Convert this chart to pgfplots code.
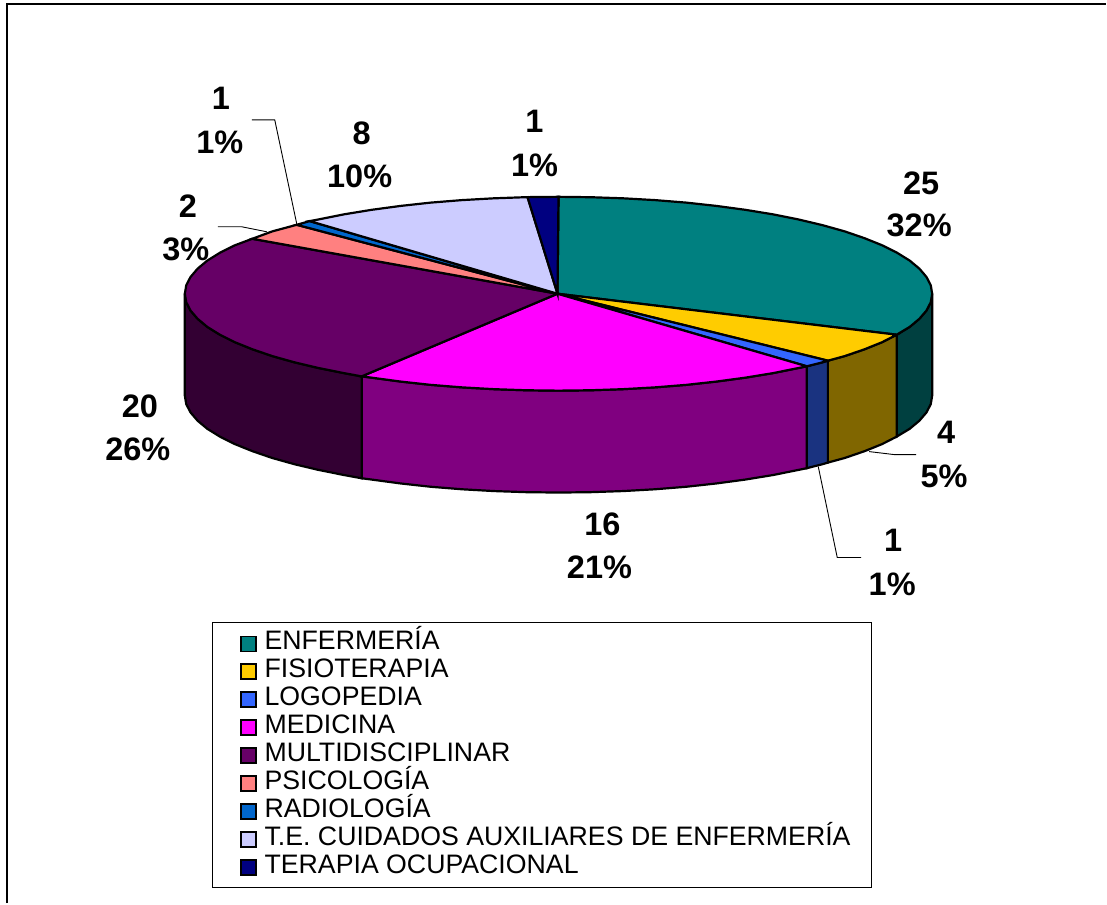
\documentclass[border=0pt]{standalone}
\usepackage{pgfplots}
\pgfplotsset{compat=1.18}
\usepackage{fontspec}
\setmainfont{Liberation Sans}
\definecolor{cEnf}{HTML}{008080}\definecolor{dEnf}{HTML}{004040}
\definecolor{cFis}{HTML}{FFCC00}\definecolor{dFis}{HTML}{806600}
\definecolor{cLog}{HTML}{3366FF}\definecolor{dLog}{HTML}{1A3380}
\definecolor{cMed}{HTML}{FF00FF}\definecolor{dMed}{HTML}{800080}
\definecolor{cMul}{HTML}{660066}\definecolor{dMul}{HTML}{330033}
\definecolor{cPsi}{HTML}{FF8080}
\definecolor{cRad}{HTML}{0066CC}
\definecolor{cTec}{HTML}{CCCCFF}
\definecolor{cTer}{HTML}{000080}
\newcommand{\lab}[3]{\node[font=\fontsize{32.5}{32.5}\selectfont\bfseries,inner sep=0pt] at (axis cs:#1,#2) {#3};}
\begin{document}
\begin{tikzpicture}
\begin{axis}[
  scale only axis, width=1107pt, height=904pt,
  xmin=0, xmax=1107, ymin=0, ymax=904, y dir=reverse,
  hide axis, clip=false,
  area legend,
  legend image code/.code={\path[draw=none,fill=none] (-8pt,0pt) -- (0pt,0pt); \draw[#1,line width=1.8pt] (0pt,-8pt) rectangle (15pt,7pt);},
  legend cell align=left,
  legend style={
    at={(axis description cs:0.1915,0.3108)}, anchor=north west,
    draw=black, line width=0.9pt, fill=white,
    inner xsep=21pt, inner ysep=6.5pt,
    font=\fontsize{26.72}{26.72}\selectfont,
    row sep=0pt,
    nodes={inner sep=0pt, text height=20.5pt, text depth=7.5pt, line width=1.6pt},
    /tikz/column 1/.style={column sep=7.5pt},
    legend columns=1,
  },
]
% page extent
\addplot[forget plot, draw=white, line width=0.01pt] coordinates {(0,0)(1107,0)(1107,904)(0,904)} -- cycle;
% frame
\addplot[forget plot, draw=black, line width=2pt] coordinates {(7,904) (7,4) (1107,4)};
% side walls
\addplot[forget plot, fill=dEnf, draw=black, line width=2.2pt] coordinates {(933,294)(931.6,302.5)(927.3,310.8)(920.2,319.1)(910.5,327.2)(897.5,335)(897.5,437)(910.5,429.2)(920.2,421.1)(927.3,412.8)(931.6,404.5)(933,396)} -- cycle;
\addplot[forget plot, fill=dFis, draw=black, line width=2.2pt] coordinates {(897.5,335)(882.9,342.5)(865.3,349.6)(845.5,356.4)(828.6,361)(828.6,463)(845.5,458.4)(865.3,451.6)(882.9,444.5)(897.5,437)} -- cycle;
\addplot[forget plot, fill=dLog, draw=black, line width=2.2pt] coordinates {(828.6,361)(823.4,362.6)(807.5,366.6)(807.5,468.6)(823.4,464.6)(828.6,463)} -- cycle;
\addplot[forget plot, fill=dMed, draw=black, line width=2.2pt] coordinates {(807.5,366.6)(799.4,368.3)(773.5,373.5)(746,378)(717,381.9)(686.9,385.2)(655.8,387.7)(623.9,389.5)(591.6,390.6)(559,391)(526.4,390.6)(494.1,389.5)(462.2,387.7)(431.1,385.2)(401,381.9)(372,378)(362,376.7)(362,478.7)(372,480)(401,483.9)(431.1,487.2)(462.2,489.7)(494.1,491.5)(526.4,492.6)(559,493)(591.6,492.6)(623.9,491.5)(655.8,489.7)(686.9,487.2)(717,483.9)(746,480)(773.5,475.5)(799.4,470.3)(807.5,468.6)} -- cycle;
\addplot[forget plot, fill=dMul, draw=black, line width=2.2pt] coordinates {(362,376.7)(344.5,373.5)(318.6,368.3)(294.6,362.6)(272.5,356.4)(252.7,349.6)(235.1,342.5)(220.1,335)(207.5,327.2)(197.8,319.1)(190.7,310.8)(186.4,302.5)(185,294)(185,396)(186.4,404.5)(190.7,412.8)(197.8,421.1)(207.5,429.2)(220.1,437)(235.1,444.5)(252.7,451.6)(272.5,458.4)(294.6,464.6)(318.6,470.3)(344.5,475.5)(362,478.7)} -- cycle;
% top wedges
\addplot[fill=cEnf, draw=black, line width=2.2pt] coordinates {(558,294)(559,197)(591.6,197.4)(623.9,198.5)(655.8,200.3)(686.9,202.8)(717,206.1)(746,210)(773.5,214.5)(799.4,219.7)(823.4,225.4)(845.5,231.6)(865.3,238.4)(882.9,245.5)(897.9,253)(910.5,260.8)(920.2,268.9)(927.3,277.2)(931.6,285.5)(933,294)(931.6,302.5)(927.3,310.8)(920.2,319.1)(910.5,327.2)(897.5,335)} -- cycle;
\addlegendentry{ENFERMERÍA}
\addplot[fill=cFis, draw=black, line width=2.2pt] coordinates {(558,294)(897.5,335)(882.9,342.5)(865.3,349.6)(845.5,356.4)(828.6,361)} -- cycle;
\addlegendentry{FISIOTERAPIA}
\addplot[fill=cLog, draw=black, line width=2.2pt] coordinates {(558,294)(828.6,361)(823.4,362.6)(807.5,366.6)} -- cycle;
\addlegendentry{LOGOPEDIA}
\addplot[fill=cMed, draw=black, line width=2.2pt] coordinates {(558,294)(807.5,366.6)(799.4,368.3)(773.5,373.5)(746,378)(717,381.9)(686.9,385.2)(655.8,387.7)(623.9,389.5)(591.6,390.6)(559,391)(526.4,390.6)(494.1,389.5)(462.2,387.7)(431.1,385.2)(401,381.9)(372,378)(362,376.7)} -- cycle;
\addlegendentry{MEDICINA}
\addplot[fill=cMul, draw=black, line width=2.2pt] coordinates {(558,294)(362,376.7)(344.5,373.5)(318.6,368.3)(294.6,362.6)(272.5,356.4)(252.7,349.6)(235.1,342.5)(220.1,335)(207.5,327.2)(197.8,319.1)(190.7,310.8)(186.4,302.5)(185,294)(186.4,285.5)(190.7,277.2)(197.8,268.9)(207.5,260.8)(220.1,253)(235.1,245.5)(252.5,239)} -- cycle;
\addlegendentry{MULTIDISCIPLINAR}
\addplot[fill=cPsi, draw=black, line width=2.2pt] coordinates {(558,294)(252.5,239)(272.5,231.6)(297,225)} -- cycle;
\addlegendentry{PSICOLOGÍA}
\addplot[fill=cRad, draw=black, line width=2.2pt] coordinates {(558,294)(297,225)(310,221.3)} -- cycle;
\addlegendentry{RADIOLOGÍA}
\addplot[fill=cTec, draw=black, line width=2.2pt] coordinates {(558,294)(310,221.3)(318.6,219.7)(344.5,214.5)(372,210)(401,206.1)(431.1,202.8)(462.2,200.3)(494.1,198.5)(528,197.3)} -- cycle;
\addlegendentry{T.E. CUIDADOS AUXILIARES DE ENFERMERÍA}
\addplot[fill=cTer, draw=black, line width=2.2pt] coordinates {(558,294)(528,197.3)(559,197)} -- cycle;
\addlegendentry{TERAPIA OCUPACIONAL}
% leader lines
\addplot[forget plot, draw=black, line width=0.9pt] coordinates {(252,120)(275,120)(297,224)};
\addplot[forget plot, draw=black, line width=0.9pt] coordinates {(218,227)(242,227)(267,232)};
\addplot[forget plot, draw=black, line width=0.9pt] coordinates {(870,452)(895,455)(917,455)};
\addplot[forget plot, draw=black, line width=0.9pt] coordinates {(819,467)(838,558)(862,558)};
% labels
\lab{922}{183}{25}\lab{920}{226}{32\%}
\lab{947}{433}{4}\lab{945}{477}{5\%}
\lab{894}{541}{1}\lab{893}{585}{1\%}
\lab{603}{525}{16}\lab{600}{568}{21\%}
\lab{140}{407}{20}\lab{138}{450}{26\%}
\lab{188}{206}{2}\lab{186}{250}{3\%}
\lab{221}{98}{1}\lab{220}{142}{1\%}
\lab{362}{133}{8}\lab{360}{176}{10\%}
\lab{535}{121}{1}\lab{535}{165}{1\%}
\end{axis}
\end{tikzpicture}
\end{document}
